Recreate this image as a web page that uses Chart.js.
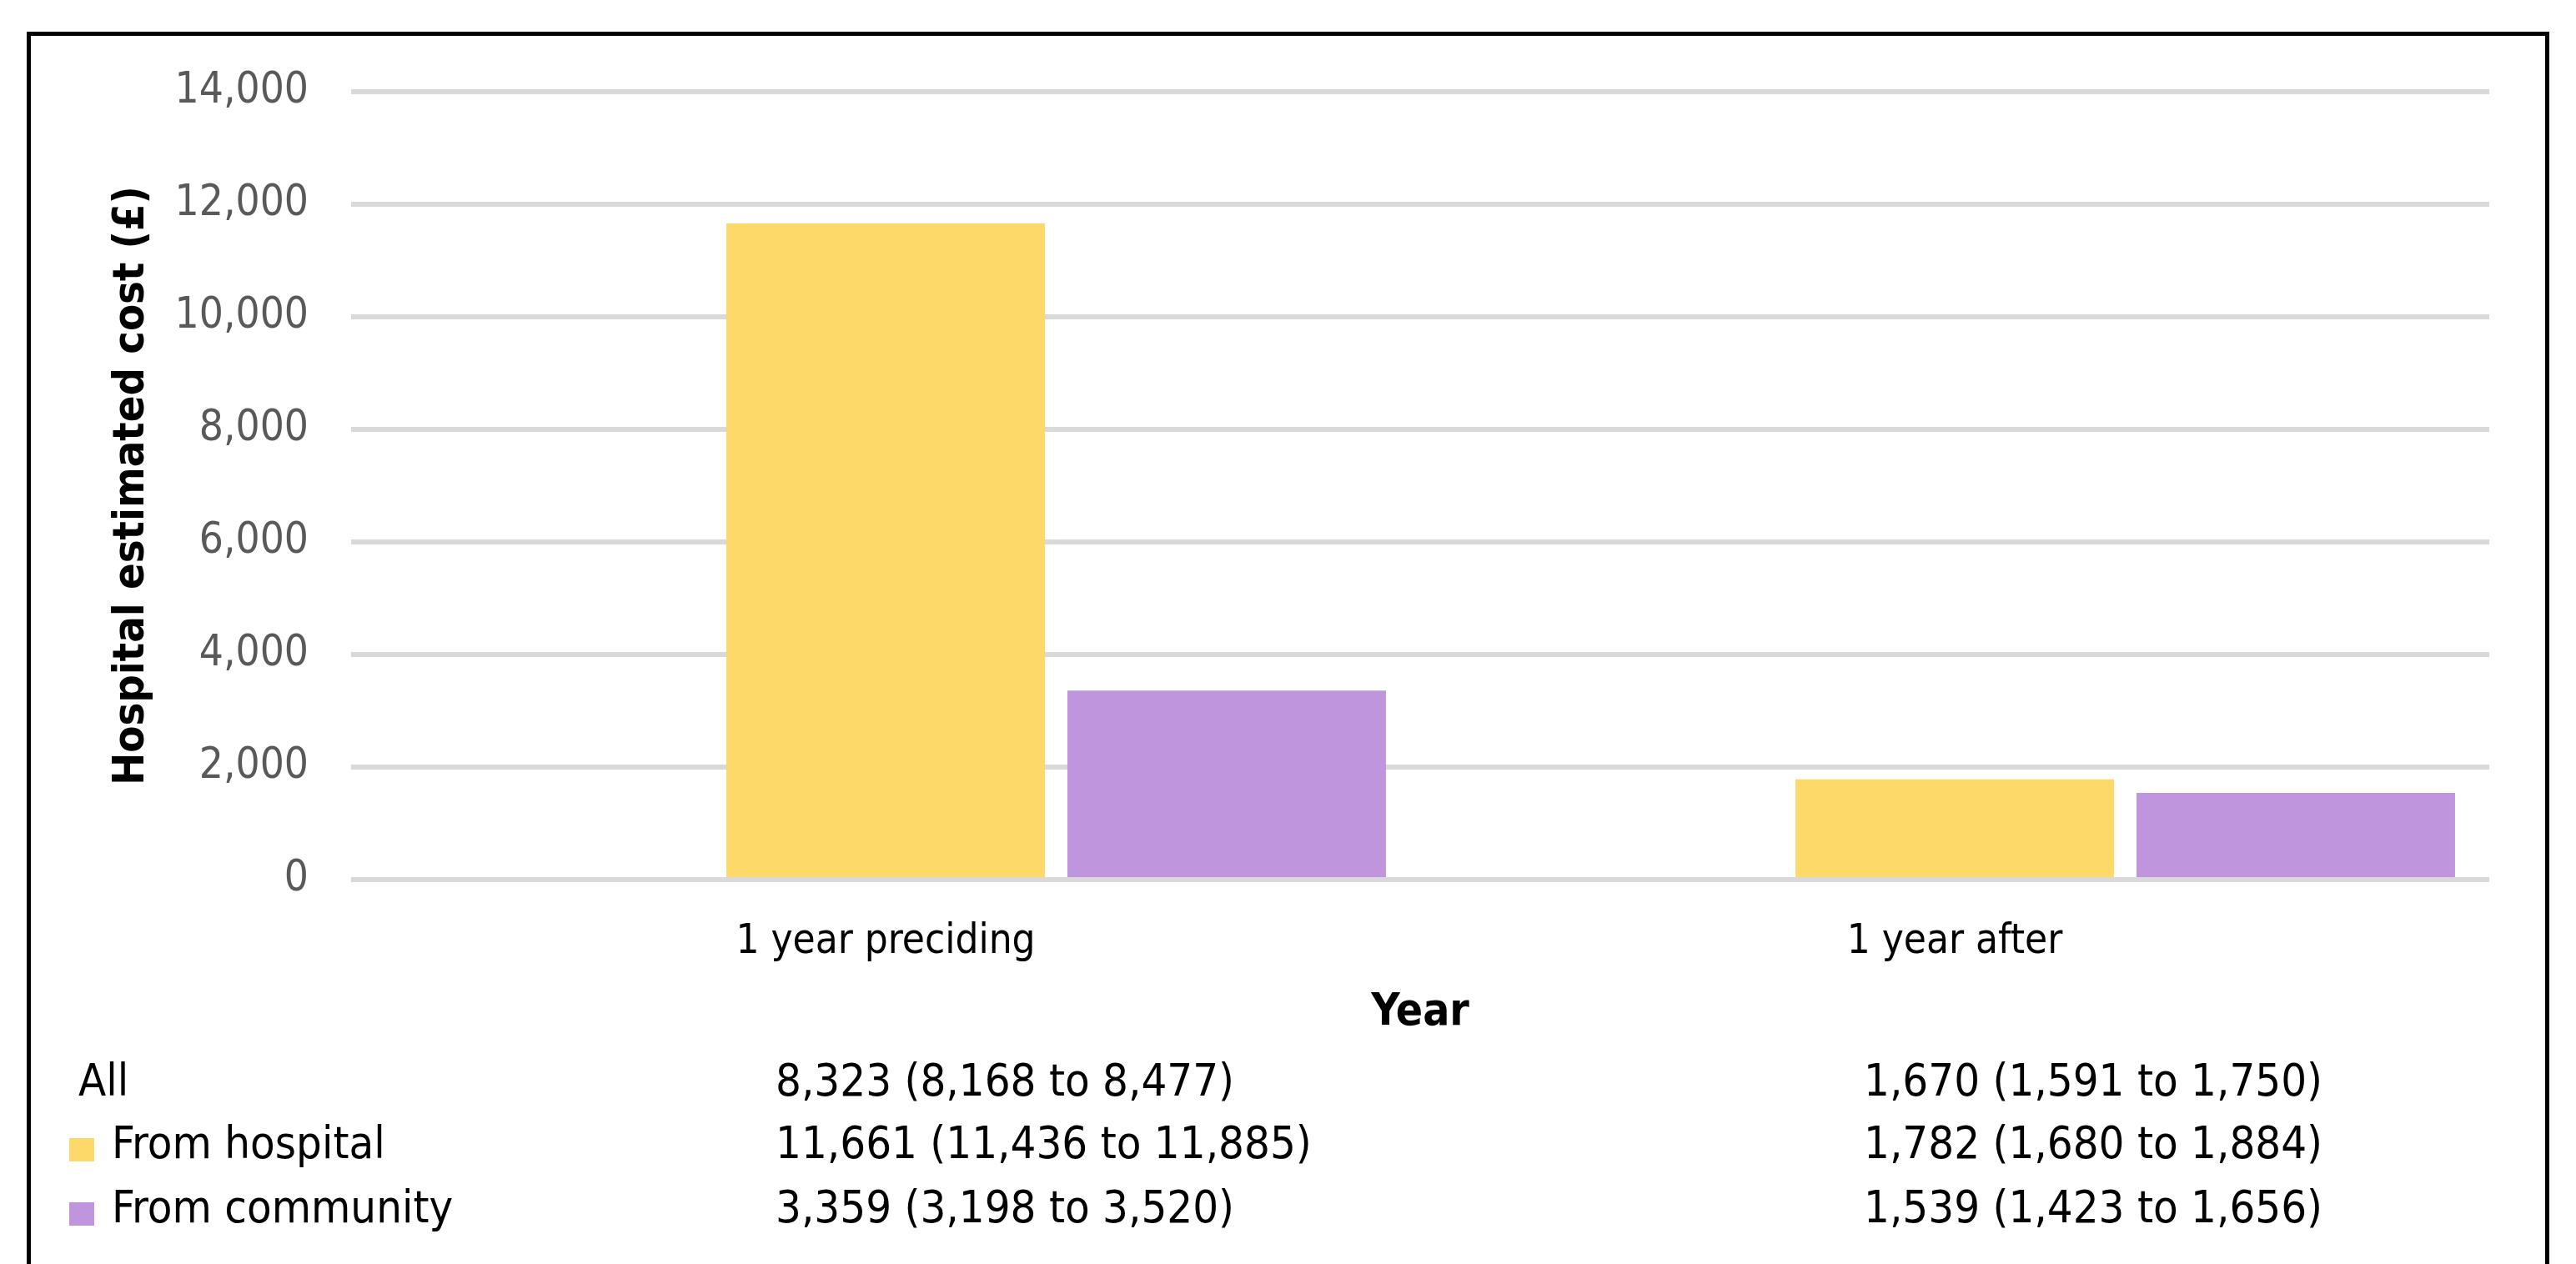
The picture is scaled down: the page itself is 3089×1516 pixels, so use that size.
<!DOCTYPE html>
<html>
<head>
<meta charset="utf-8">
<script src="https://cdn.jsdelivr.net/npm/chart.js@4.4.1/dist/chart.umd.min.js"></script>
<style>
  html, body { margin: 0; padding: 0; background: #fff; overflow: hidden; }
  #wrap { position: relative; width: 3089px; height: 1516px; }
  #costChart { position: absolute; left: 0; top: 0; }
  #frame { position: absolute; left: 32px; top: 38px; width: 3025px; height: 1600px;
           border: 5px solid #000; box-sizing: border-box; }
  .cell { position: absolute; white-space: nowrap; color: #000;
          font-family: 'DejaVu Sans Condensed', 'Liberation Sans', sans-serif;
          font-size: 54px; line-height: 54px; }
  .key { position: absolute; width: 30px; height: 28px; }
</style>
</head>
<body>
<div id="wrap">
  <canvas id="costChart" width="3089" height="1516"></canvas>
  <div id="frame"></div>
  <div id="table"></div>
</div>
<script>
var FONT = "'DejaVu Sans Condensed', 'Liberation Sans', sans-serif";

// periods on the x axis
var periods = ['1 year preciding', '1 year after'];

// mean cost and 95% CI per group, one entry per period
var allMean = [8323, 1670];
var allLow = [8168, 1591];
var allHigh = [8477, 1750];

var hospitalMean = [11661, 1782];
var hospitalLow = [11436, 1680];
var hospitalHigh = [11885, 1884];

var communityMean = [3359, 1539];
var communityLow = [3198, 1423];
var communityHigh = [3520, 1656];

var groupNames = ['All', 'From hospital', 'From community'];
var groupColors = ['rgba(0,0,0,0)', '#FDD96A', '#BF96DE'];

var yTicks = [0, 2000, 4000, 6000, 8000, 10000, 12000, 14000];

function fmt(v) {
    return v.toLocaleString('en-US');
}

var ctx = document.getElementById('costChart').getContext('2d');
var costChart = new Chart(ctx, {
    type: 'bar',
    data: {
        labels: periods,
        datasets: [{
            label: groupNames[0],
            data: allMean,
            backgroundColor: groupColors[0]
        }, {
            label: groupNames[1],
            data: hospitalMean,
            backgroundColor: groupColors[1]
        }, {
            label: groupNames[2],
            data: communityMean,
            backgroundColor: groupColors[2]
        }]
    },
    options: {
        responsive: false,
        animation: false,
        layout: { padding: { left: 0, top: 110, right: 104, bottom: 0 } },
        datasets: { bar: { categoryPercentage: 0.957, barPercentage: 0.934 } },
        plugins: {
            legend: { display: false },
            tooltip: { enabled: false }
        },
        scales: {
            x: {
                grid: { display: false, drawTicks: false },
                border: { display: false },
                ticks: { color: '#000', padding: 46, font: { family: FONT, size: 49 } },
                title: {
                    display: true,
                    text: 'Year',
                    color: '#000',
                    font: { family: FONT, size: 53, weight: 'bold' },
                    padding: { top: 0, bottom: 269 }
                },
                afterFit: function(scale) { scale.height = 461; }
            },
            y: {
                min: yTicks[0],
                max: yTicks[yTicks.length - 1],
                afterBuildTicks: function(scale) {
                    scale.ticks = yTicks.map(function(v) { return { value: v }; });
                },
                grid: { color: '#D9D9D9', lineWidth: 6, drawTicks: false },
                border: { display: false },
                ticks: {
                    color: '#595959',
                    padding: 51,
                    font: { family: FONT, size: 51 },
                    callback: function(v) { return fmt(v); }
                },
                title: {
                    display: true,
                    text: 'Hospital estimated cost (£)',
                    color: '#000',
                    font: { family: FONT, size: 52, weight: 'bold' },
                    padding: { top: 127, bottom: 0 }
                },
                afterFit: function(scale) { scale.width = 421; }
            }
        }
    }
});

// summary table under the chart: group name, then "mean (low to high)" per period
var means = [allMean, hospitalMean, communityMean];
var lows = [allLow, hospitalLow, communityLow];
var highs = [allHigh, hospitalHigh, communityHigh];
var rowBaselines = [1318, 1393, 1470];
var colX = [930, 2235];

var table = document.getElementById('table');
function addCell(text, x, baseline) {
    var d = document.createElement('div');
    d.className = 'cell';
    d.textContent = text;
    d.style.left = x + 'px';
    d.style.top = (baseline - 49) + 'px';
    table.appendChild(d);
}

groupNames.forEach(function(name, r) {
    var base = rowBaselines[r];
    if (r === 0) {
        addCell(name, 94, base);
    } else {
        var key = document.createElement('div');
        key.className = 'key';
        key.style.left = '83px';
        key.style.top = (base - 28) + 'px';
        key.style.background = groupColors[r];
        table.appendChild(key);
        addCell(name, 134, base);
    }
    periods.forEach(function(p, c) {
        addCell(fmt(means[r][c]) + ' (' + fmt(lows[r][c]) + ' to ' + fmt(highs[r][c]) + ')', colX[c], base);
    });
});
</script>
</body>
</html>
